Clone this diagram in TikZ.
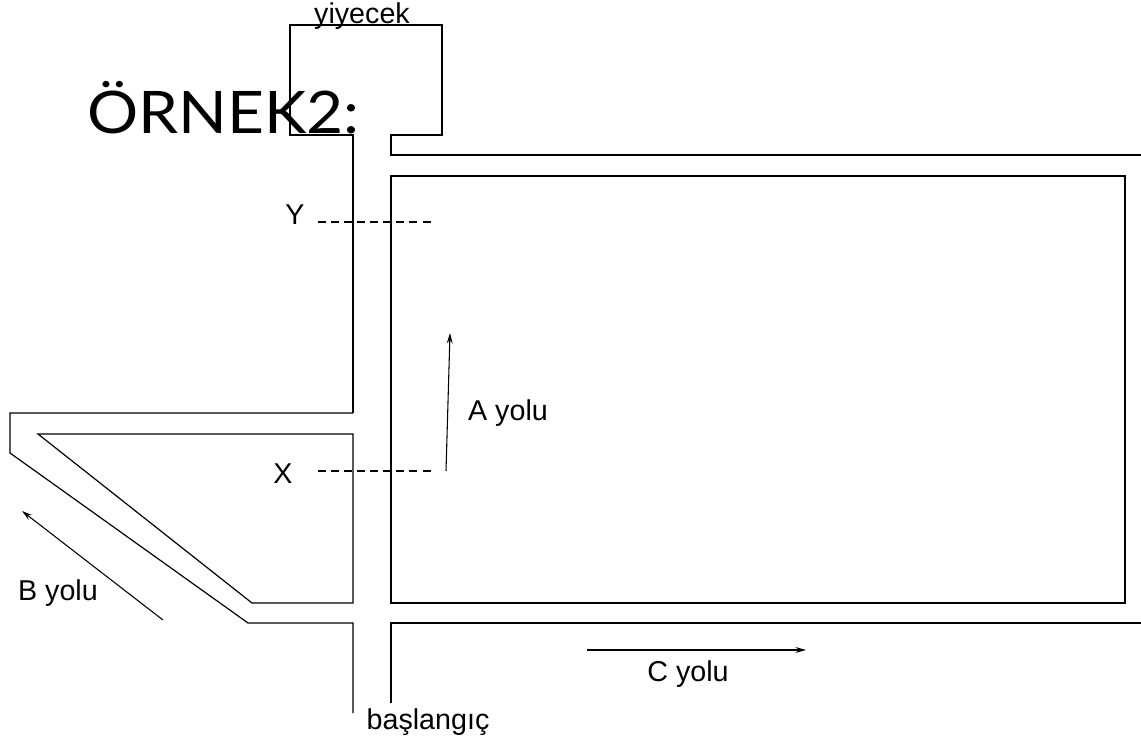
\documentclass[tikz,border=0pt]{standalone}
\usepackage{fontspec}
\setmainfont{Liberation Sans}
\newfontfamily\titlefont{Lato}
\usetikzlibrary{arrows.meta}
\begin{document}
\begin{tikzpicture}[x=0.75pt,y=-0.75pt,
  wall/.style={line width=0.9pt,line join=miter},
  guide/.style={line width=0.8pt,dash pattern=on 6pt off 3.8pt},
  dir/.style={line width=0.8pt,-{Stealth[length=8pt,width=4.5pt,inset=3pt]}},
  lbl/.style={font=\fontsize{21.5}{24}\selectfont,inner sep=0pt}]
\useasboundingbox (0,0) rectangle (1141,739);
% title
\node[anchor=base west,inner sep=0pt,font=\titlefont\fontsize{44}{50}\selectfont] (title) at (87,133) {\scalebox{1.09}[1]{ÖRNEK2:}};
% food box and top roads
\draw[wall] (353,413) -- (353,135) -- (290,135) -- (290,25) -- (442,25) -- (442,135) -- (391,135) -- (391,155) -- (1141,155);
\node[lbl,anchor=base] (food) at (362,23) {yiyecek};
% big block
\draw[wall] (391,176) rectangle (1125,603);
% left road with B branch
\draw[wall] (353,413) -- (10,413) -- (10,453) -- (248,623) -- (353,623) -- (353,713);
\draw[wall] (38,434) -- (353,434) -- (353,603) -- (252,603) -- cycle;
% bottom road
\draw[wall] (391,703) -- (391,623) -- (1141,623);
% labels and guides
\node[lbl] (Y) at (295,215) {Y};
\coordinate (y1) at (318,222);
\coordinate (y2) at (435,222);
\draw[guide] (y1) -- (y2);
\node[lbl] (X) at (283,474) {X};
\coordinate (x1) at (318,471);
\coordinate (x2) at (435,471);
\draw[guide] (x1) -- (x2);
% A yolu
\coordinate (a1) at (446,471);
\coordinate (a2) at (450,333);
\draw[dir] (a1) -- (a2);
\node[lbl] (A) at (508,413) {A yolu};
% B yolu
\coordinate (b1) at (163,620);
\coordinate (b2) at (22,511);
\draw[dir] (b1) -- (b2);
\node[lbl] (B) at (58,593) {B yolu};
% C yolu
\coordinate (c1) at (587,650);
\coordinate (c2) at (806,650);
\draw[dir] (c1) -- (c2);
\node[lbl] (C) at (688,674) {C yolu};
\node[lbl] (start) at (428,722) {başlangıç};
\end{tikzpicture}
\end{document}
